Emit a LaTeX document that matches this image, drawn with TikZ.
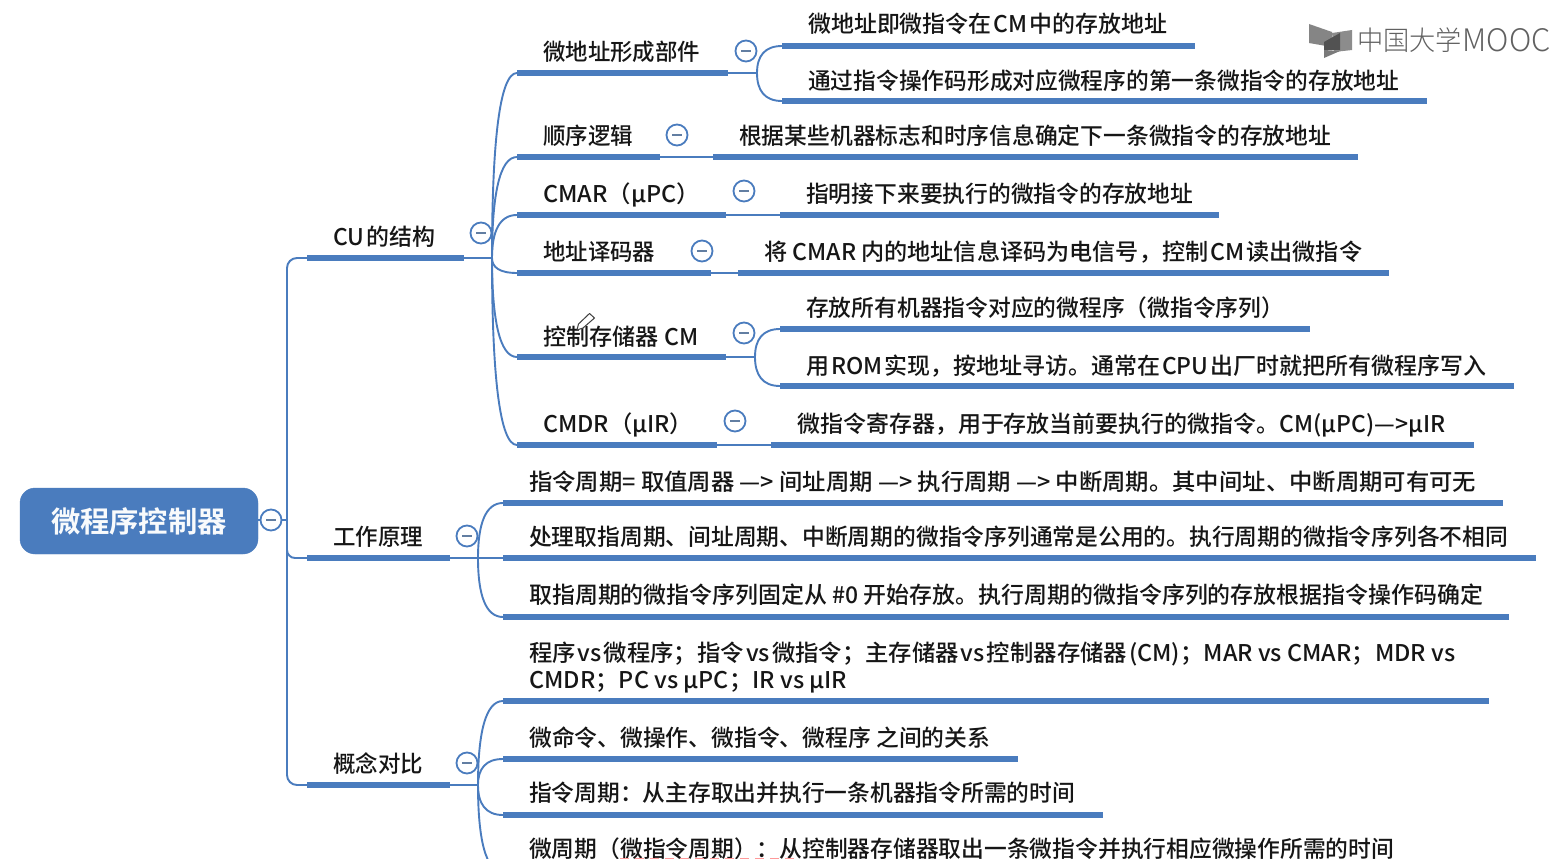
\documentclass[tikz,border=0pt]{standalone}
\usepackage{fontspec}
\usepackage{graphicx}
\setmainfont{Noto Sans CJK SC Medium}
\newfontfamily\rootf{Noto Sans CJK SC Bold}
\newfontfamily\logof{Noto Sans CJK SC Light}
\usetikzlibrary{calc}
\definecolor{mind}{RGB}{74,124,190}
\definecolor{ink}{RGB}{22,22,22}
\tikzset{
  x=1pt,y=-1pt,
  thin line/.style={draw=mind,line width=1.9pt},
  barline/.style={draw=mind,line width=6pt},
  fold/.style={circle,draw=mind,line width=1.8pt,fill=white,minimum size=21pt,inner sep=0pt},
  label text/.style={anchor=base west,inner sep=0pt,text=ink,yshift=-9pt,font=\fontsize{23}{26}\selectfont},
  root box/.style={rounded corners=15pt,fill=mind,draw=mind,minimum width=238pt,minimum height=66pt,inner sep=0pt},
}
\newcommand{\Lbl}[5]{\node[label text] (#1) at (#2,#3) {\resizebox{#4pt}{\height}{#5}};}
\newcommand{\Bar}[4]{\coordinate (#1-l) at (#2,#4);\coordinate (#1-r) at (#3,#4);\draw[barline] (#1-l) -- (#1-r);}
\newcommand{\Fold}[3]{\node[fold] (#1) at (#2,#3) {};\draw[draw=mind!55!gray,line width=2pt] ($(#1)+(-5,0)$) -- ($(#1)+(5,0)$);}
\newcommand{\Curve}[2]{\draw[thin line] (#1) .. controls ($(#1)!.62!(#1|-#2)$) and ($(#2)!.7!(#1|-#2)$) .. (#2);}
\newcommand{\ns}{\hspace{2pt}}
\begin{document}
\begin{tikzpicture}
\useasboundingbox (0,0) rectangle (1556,859);
\fill[white] (0,0) rectangle (1556,859);
% root
\node[root box] (root) at (139,521) {\resizebox{176pt}{\height}{\fontsize{29}{32}\rootf\color{white!96!mind}微程序控制器}};
\coordinate (spine) at (287,520);
% bars level 1
\Bar{cu}{307}{464}{258}
\Bar{gz}{307}{450}{558}
\Bar{gn}{307}{450}{785}
\draw[thin line] (root.east|-spine) -- (spine);
\draw[thin line,rounded corners=10pt] (cu-l) -| (spine);
\draw[thin line,rounded corners=10pt] (gn-l) -| (spine);
\draw[thin line,rounded corners=8pt] (spine) |- (gz-l);
% CU children
\coordinate (cuj) at (492,258);
\draw[thin line] (cu-r) -- (cuj);
\Bar{a}{517}{728}{73}
\Bar{b}{517}{660}{157}
\Bar{c}{517}{726}{215}
\Bar{d}{517}{711}{273}
\Bar{e}{517}{726}{357}
\Bar{f}{517}{717}{445}
\foreach \t in {a,b,c,d,e,f} {\Curve{cuj}{\t-l}}
% leaves of a
\coordinate (aj) at (757,73);
\draw[thin line] (a-r) -- (aj);
\Bar{a1}{782}{1195}{46}
\Bar{a2}{782}{1427}{101}
\Curve{aj}{a1-l}\Curve{aj}{a2-l}
\Bar{b1}{713}{1358}{157}
\draw[thin line] (b-r) -- (b1-l);
\Bar{c1}{780}{1219}{215}
\draw[thin line] (c-r) -- (c1-l);
\Bar{d1}{738}{1389}{273}
\draw[thin line] (d-r) -- (d1-l);
\coordinate (ej) at (755,357);
\draw[thin line] (e-r) -- (ej);
\Bar{e1}{780}{1310}{329}
\Bar{e2}{780}{1514}{386}
\Curve{ej}{e1-l}\Curve{ej}{e2-l}
\Bar{f1}{771}{1474}{445}
\draw[thin line] (f-r) -- (f1-l);
% gz children
\coordinate (gzj) at (478,558);
\Bar{g1}{503}{1503}{503}
\Bar{g2}{503}{1536}{558}
\Bar{g3}{503}{1509}{617}
\draw[thin line] (gz-r) -- (g2-l);
\Curve{gzj}{g1-l}\Curve{gzj}{g3-l}
% gn children
\coordinate (gnj) at (478,785);
\draw[thin line] (gn-r) -- (gnj);
\Bar{h1}{503}{1489}{701}
\Bar{h2}{503}{1018}{759}
\Bar{h3}{503}{1103}{815}
\Bar{h4}{503}{1450}{872}
\Curve{gnj}{h1-l}\Curve{gnj}{h2-l}\Curve{gnj}{h3-l}\Curve{gnj}{h4-l}
% fold markers
\Fold{fr}{271}{520}
\Fold{fcu}{481}{233}
\Fold{fgz}{467}{536}
\Fold{fgn}{467}{763}
\Fold{fa}{746}{51}
\Fold{fb}{677}{135}
\Fold{fc}{744}{191}
\Fold{fd}{702}{251}
\Fold{fe}{744}{333}
\Fold{ff}{735}{421}
% labels
\Lbl{tcu}{333}{236}{102}{CU\ns 的结构}
\Lbl{tgz}{333}{536}{90}{工作原理}
\Lbl{tgn}{333}{763}{90}{概念对比}
\Lbl{ta}{543}{51}{157}{微地址形成部件}
\Lbl{ta1}{808}{24}{359}{微地址即微指令在\ns CM\ns 中的存放地址}
\Lbl{ta2}{808}{80}{591}{通过指令操作码形成对应微程序的第一条微指令的存放地址}
\Lbl{tb}{543}{135}{90}{顺序逻辑}
\Lbl{tb1}{739}{135}{592}{根据某些机器标志和时序信息确定下一条微指令的存放地址}
\Lbl{tc}{543}{193}{157}{CMAR（µPC）}
\Lbl{tc1}{806}{193}{387}{指明接下来要执行的微指令的存放地址}
\Lbl{td}{543}{251}{112}{地址译码器}
\Lbl{td1}{764}{251}{598}{将 CMAR 内的地址信息译码为电信号，控制\ns CM\ns 读出微指令}
\Lbl{te}{543}{336}{155}{控制存储器 CM}
\Lbl{te1}{806}{307}{478}{存放所有机器指令对应的微程序（微指令序列）}
\Lbl{te2}{806}{365}{680}{用\ns ROM\ns 实现，按地址寻访。通常在\ns CPU\ns 出厂时就把所有微程序写入}
\Lbl{tf}{543}{423}{150}{CMDR（µIR）}
\Lbl{tf1}{797}{423}{648}{微指令寄存器，用于存放当前要执行的微指令。CM(µPC)—>µIR}
\Lbl{tg1}{529}{481}{947}{指令周期= 取值周器 —> 间址周期 —> 执行周期 —> 中断周期。其中间址、中断周期可有可无}
\Lbl{tg2}{529}{536}{979}{处理取指周期、间址周期、中断周期的微指令序列通常是公用的。执行周期的微指令序列各不相同}
\Lbl{tg3}{529}{594}{954}{取指周期的微指令序列固定从 \#0 开始存放。执行周期的微指令序列的存放根据指令操作码确定}
\Lbl{th1}{529}{652}{926}{程序\ns vs\ns 微程序；指令\ns vs\ns 微指令；主存储器\ns vs\ns 控制器存储器\ns(CM)；MAR vs CMAR；MDR vs}
\Lbl{th1b}{529}{679}{318}{CMDR；PC vs µPC；IR vs µIR}
\Lbl{th2}{529}{737}{461}{微命令、微操作、微指令、微程序 之间的关系}
\Lbl{th3}{529}{792}{546}{指令周期：从主存取出并执行一条机器指令所需的时间}
\Lbl{th4}{529}{848}{865}{微周期（微指令周期）：从控制器存储器取出一条微指令并执行相应微操作所需的时间}
% pencil
\draw[draw=black!75,fill=white,line width=1pt,line join=round] (589.5,313.5) -- (594.5,318) -- (583,328) -- (577,330) -- (578.5,324) -- cycle;
% logo
\fill[black!48] (1309,24) -- (1332,32) -- (1332,47) -- (1309,43) -- cycle;
\fill[black!45] (1332,33) -- (1352,30) -- (1352,50) -- (1334,52) -- cycle;
\fill[black!68] (1324,42) -- (1340,33) -- (1340,50) -- (1324,50) -- cycle;
\fill[black!52] (1324,50) -- (1340,51) -- (1324,58) -- cycle;
\node[anchor=west,inner sep=0pt,text=black!62] (logo) at (1357,40) {\resizebox{105pt}{\height}{\fontsize{27}{30}\logof 中国大学}};
\node[anchor=west,inner sep=0pt,text=black!62] (logob) at (logo.east) {\resizebox{88pt}{\height}{\fontsize{31}{30}\logof MOOC}};
% faint red marks cut off by the lower edge
\draw[red!40,line width=2pt,dash pattern=on 9pt off 6pt] (620,858.5) -- (800,858.5);
\end{tikzpicture}
\end{document}
